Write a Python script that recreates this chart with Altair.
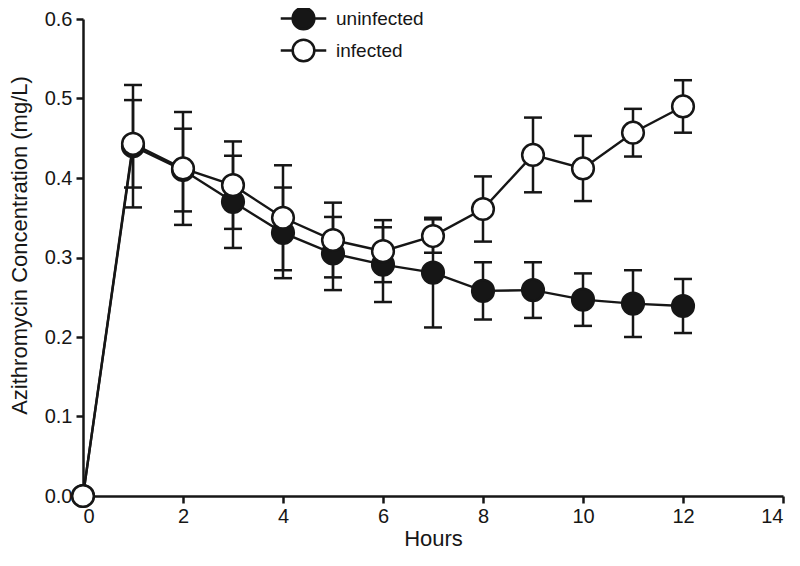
import altair as alt
import pandas as pd

hours = list(range(13))
uninfected = [0, 0.440, 0.410, 0.370, 0.331, 0.305, 0.291, 0.281, 0.258, 0.259, 0.247, 0.242, 0.239]
uninfected_err = [0, 0.077, 0.052, 0.058, 0.057, 0.046, 0.047, 0.069, 0.036, 0.035, 0.033, 0.042, 0.034]
infected = [0, 0.443, 0.412, 0.391, 0.350, 0.322, 0.308, 0.327, 0.361, 0.429, 0.412, 0.457, 0.490]
infected_err = [0, 0.055, 0.071, 0.055, 0.066, 0.047, 0.039, 0.021, 0.041, 0.047, 0.041, 0.030, 0.033]
groups = ["uninfected", "infected"]
x_ticks = [0, 2, 4, 6, 8, 10, 12, 14]
y_ticks = [0.0, 0.1, 0.2, 0.3, 0.4, 0.5, 0.6]

rows = []
for g, vals, errs in [("uninfected", uninfected, uninfected_err), ("infected", infected, infected_err)]:
    for h, v, e in zip(hours, vals, errs):
        rows.append({"hours": h, "group": g, "value": v, "err": e, "lo": v - e, "hi": v + e})
df = pd.DataFrame(rows)

ink = "#161616"
font = "Liberation Sans, Arial, Helvetica, sans-serif"

x_enc = alt.X("hours:Q", scale=alt.Scale(domain=[0, 14], nice=False),
              axis=alt.Axis(values=x_ticks, title="Hours", format="d"))

def y_enc(field):
    return alt.Y(f"{field}:Q", scale=alt.Scale(domain=[0, 0.6], nice=False),
                 axis=alt.Axis(values=y_ticks, format=".1f", titleY=226,
                               title="Azithromycin Concentration (mg/L)"))

base = alt.Chart(df)
errs = base.transform_filter("datum.err > 0")

rules = errs.mark_rule(color=ink, strokeWidth=2.5).encode(
    x=x_enc, y=y_enc("lo"), y2="hi:Q")
caps_lo = errs.mark_tick(color=ink, orient="horizontal", size=18, thickness=2.5, opacity=1).encode(
    x=x_enc, y=y_enc("lo"))
caps_hi = errs.mark_tick(color=ink, orient="horizontal", size=18, thickness=2.5, opacity=1).encode(
    x=x_enc, y=y_enc("hi"))

lines = base.mark_line(color=ink, strokeWidth=2.4).encode(
    x=x_enc, y=y_enc("value"), detail="group:N")

legend_path = "M-2.1,0L-1,0M1,0L2.1,0M1,0A1,1,0,1,1,-1,0A1,1,0,1,1,1,0Z"

points = base.mark_point(shape="circle", size=470, filled=True, stroke=ink,
                         strokeWidth=2.5, opacity=1, clip=False).encode(
    x=x_enc, y=y_enc("value"),
    fill=alt.Fill("group:N", scale=alt.Scale(domain=groups, range=[ink, "white"]),
                  sort=groups,
                  legend=alt.Legend(title=None, orient="none", legendX=208, legendY=-13,
                                    symbolType=legend_path, symbolSize=470,
                                    symbolStrokeColor=ink, symbolStrokeWidth=2.5,
                                    labelFont=font, labelFontSize=19, labelColor=ink,
                                    labelOffset=20, rowPadding=-1, padding=0)))

chart = alt.layer(rules, caps_lo, caps_hi, lines, points).properties(
    width=700, height=477,
    autosize=alt.AutoSizeParams(type="none"),
    padding={"left": 75, "top": 11, "right": 9, "bottom": 56},
).configure_view(stroke=None).configure_axis(
    grid=False, domainColor=ink, domainWidth=2.5, tickColor=ink, tickWidth=2.5,
    tickSize=7, labelFont=font, labelFontSize=20, labelColor=ink,
    titleFont=font, titleFontSize=22, titleFontWeight="normal", titleColor=ink,
).configure_axisY(titlePadding=13, labelPadding=4).configure_axisX(titlePadding=2, labelPadding=3)

chart.save("out.html", embed_options={"renderer": "svg", "actions": False})
